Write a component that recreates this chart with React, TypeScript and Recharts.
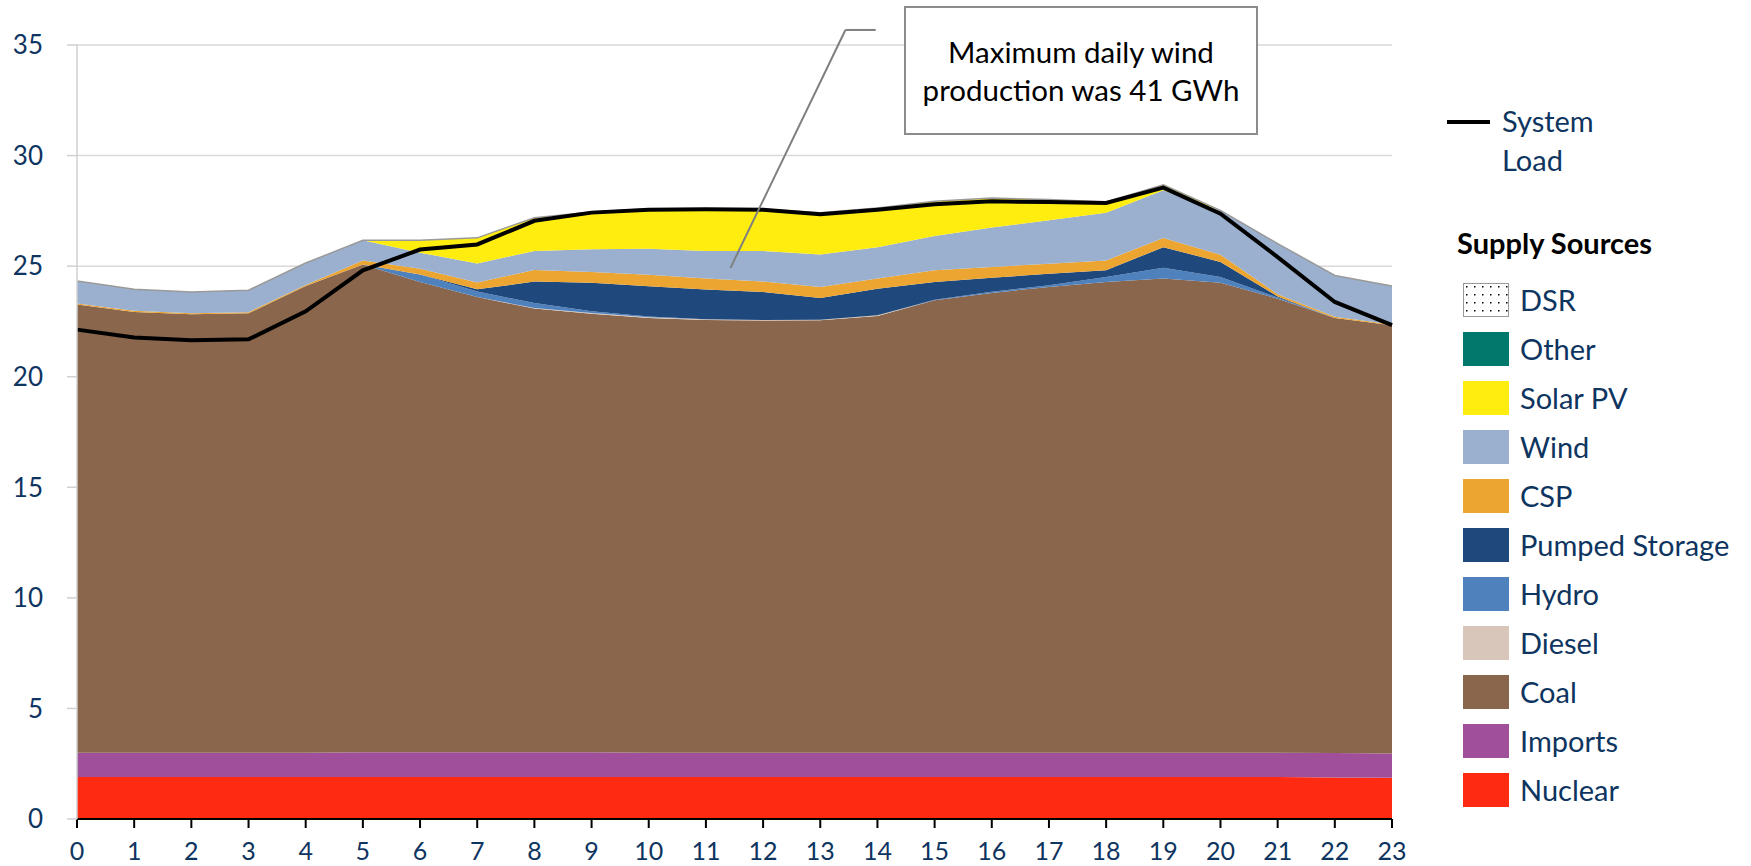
import {
  ComposedChart,
  Area,
  Line,
  XAxis,
  YAxis,
  CartesianGrid,
  ReferenceLine,
} from "recharts";

const hours = [0, 1, 2, 3, 4, 5, 6, 7, 8, 9, 10, 11, 12, 13, 14, 15, 16, 17, 18, 19, 20, 21, 22, 23];
const nuclear = [1.9, 1.9, 1.9, 1.9, 1.9, 1.9, 1.9, 1.9, 1.9, 1.9, 1.9, 1.9, 1.9, 1.9, 1.9, 1.9, 1.9, 1.9, 1.9, 1.9, 1.9, 1.9, 1.88, 1.86];
const imports = [1.1, 1.1, 1.1, 1.1, 1.1, 1.12, 1.12, 1.12, 1.12, 1.12, 1.1, 1.1, 1.1, 1.1, 1.1, 1.1, 1.1, 1.1, 1.1, 1.1, 1.1, 1.1, 1.1, 1.1];
const coal = [20.26, 19.93, 19.82, 19.87, 21.1, 22.05, 21.26, 20.58, 20.06, 19.83, 19.66, 19.57, 19.54, 19.55, 19.75, 20.46, 20.79, 21.06, 21.28, 21.44, 21.25, 20.53, 19.68, 19.37];
const diesel = [0, 0, 0, 0, 0, 0, 0, 0, 0.03, 0.03, 0.03, 0.03, 0.03, 0.03, 0.03, 0, 0, 0, 0, 0, 0, 0, 0, 0];
const hydro = [0, 0, 0, 0, 0, 0, 0.34, 0.25, 0.22, 0.08, 0.03, 0, 0, 0, 0, 0.02, 0.05, 0.08, 0.23, 0.49, 0.26, 0.05, 0, 0];
const pumped = [0, 0, 0, 0, 0, 0, 0, 0.1, 0.97, 1.29, 1.37, 1.34, 1.26, 0.98, 1.2, 0.8, 0.63, 0.52, 0.3, 0.93, 0.68, 0.05, 0, 0];
const csp = [0.05, 0.05, 0.05, 0.05, 0.05, 0.19, 0.26, 0.31, 0.53, 0.48, 0.52, 0.5, 0.48, 0.5, 0.46, 0.53, 0.49, 0.45, 0.45, 0.41, 0.33, 0.1, 0.05, 0.03];
const wind = [1.02, 0.97, 0.96, 0.99, 0.99, 0.91, 0.73, 0.86, 0.86, 1.03, 1.18, 1.24, 1.37, 1.47, 1.42, 1.55, 1.79, 1.96, 2.16, 2.16, 2.0, 2.29, 1.87, 1.74];
const solar = [0, 0, 0, 0, 0, 0, 0.56, 1.16, 1.5, 1.69, 1.81, 1.92, 1.89, 1.89, 1.77, 1.57, 1.33, 0.94, 0.48, 0.25, 0, 0, 0, 0];
const other = [0, 0, 0, 0, 0, 0, 0, 0, 0, 0, 0, 0, 0, 0, 0, 0, 0, 0, 0, 0, 0, 0, 0, 0];
const dsr = [0, 0, 0, 0, 0, 0, 0, 0, 0, 0, 0, 0, 0, 0, 0, 0, 0, 0, 0, 0, 0, 0, 0, 0];
const systemLoad = [22.13, 21.77, 21.65, 21.69, 22.96, 24.81, 25.75, 25.98, 27.05, 27.42, 27.55, 27.57, 27.55, 27.35, 27.55, 27.8, 27.93, 27.9, 27.86, 28.55, 27.37, 25.41, 23.38, 22.33];

const yTicks = [0, 5, 10, 15, 20, 25, 30, 35];

// stacking order, bottom to top
const sources = [
  { key: "nuclear", name: "Nuclear", color: "#FF2A12", values: nuclear },
  { key: "imports", name: "Imports", color: "#A0509A", values: imports },
  { key: "coal", name: "Coal", color: "#8A664C", values: coal },
  { key: "diesel", name: "Diesel", color: "#D8C6BA", values: diesel },
  { key: "hydro", name: "Hydro", color: "#4F81BD", values: hydro },
  { key: "pumped", name: "Pumped Storage", color: "#1F497D", values: pumped },
  { key: "csp", name: "CSP", color: "#EDA531", values: csp },
  { key: "wind", name: "Wind", color: "#9BB0CE", values: wind },
  { key: "solar", name: "Solar PV", color: "#FFED10", values: solar },
  { key: "other", name: "Other", color: "#00786C", values: other },
  { key: "dsr", name: "DSR", color: "url(#dots)", values: dsr },
];

const data = hours.map((h, i) => {
  const row: Record<string, number> = { hour: h, load: systemLoad[i] };
  sources.forEach((s) => (row[s.key] = s.values[i]));
  return row;
});

const TEXT = "#0E3460";
const FONT = "Lato, 'Open Sans', sans-serif";

function DotSwatch() {
  return (
    <svg width={46} height={34} style={{ display: "block" }}>
      <defs>
        <pattern id="legendDots" width="8" height="8" patternUnits="userSpaceOnUse">
          <rect width="8" height="8" fill="#fff" />
          <rect x="3" y="3" width="1.5" height="1.5" fill="#000" />
        </pattern>
      </defs>
      <rect x={0.5} y={0.5} width={45} height={33} fill="url(#legendDots)" stroke="#999" />
    </svg>
  );
}

function SupplyLegend() {
  const items = [...sources].reverse();
  return (
    <div style={{ position: "absolute", left: 1447, top: 101, fontFamily: FONT }}>
      <div style={{ display: "flex", alignItems: "flex-start" }}>
        <div style={{ width: 43, height: 4, background: "#000", marginTop: 19, marginRight: 12 }} />
        <div style={{ color: TEXT, fontSize: 29, lineHeight: "39px" }}>
          System
          <br />
          Load
        </div>
      </div>
      <div style={{ marginTop: 46, marginLeft: 10, fontWeight: 700, fontSize: 29, color: "#000", lineHeight: "36px" }}>
        Supply Sources
      </div>
      <div style={{ marginTop: 14 }}>
        {items.map((s) => (
          <div key={s.key} style={{ display: "flex", alignItems: "center", height: 49, marginLeft: 16 }}>
            {s.key === "dsr" ? (
              <DotSwatch />
            ) : (
              <div style={{ width: 46, height: 34, background: s.color }} />
            )}
            <span style={{ marginLeft: 11, color: TEXT, fontSize: 29, whiteSpace: "nowrap" }}>{s.name}</span>
          </div>
        ))}
      </div>
    </div>
  );
}

export default function App() {
  return (
    <div style={{ position: "absolute", left: 0, top: 0, width: 1751, height: 866, background: "#fff", fontFamily: FONT }}>
      <ComposedChart width={1751} height={866} data={data} margin={{ top: 45, right: 359, left: 0, bottom: 0 }}>
        <defs>
          <pattern id="dots" width="8" height="8" patternUnits="userSpaceOnUse">
            <rect width="8" height="8" fill="#fff" />
            <rect x="3" y="3" width="1.5" height="1.5" fill="#000" />
          </pattern>
        </defs>
        <CartesianGrid vertical={false} stroke="#d9d9d9" strokeWidth={1.5} />
        {sources.map((s) => (
          <Area
            key={s.key}
            type="linear"
            dataKey={s.key}
            name={s.name}
            stackId="supply"
            fill={s.color}
            fillOpacity={1}
            stroke={s.key === "dsr" ? "#9a9a9a" : "none"}
            strokeWidth={s.key === "dsr" ? 1.5 : 0}
            isAnimationActive={false}
          />
        ))}
        <Line
          type="linear"
          dataKey="load"
          name="System Load"
          stroke="#000"
          strokeWidth={4}
          dot={false}
          isAnimationActive={false}
        />
        <XAxis
          dataKey="hour"
          type="number"
          domain={[0, 23]}
          ticks={hours}
          interval={0}
          height={47}
          stroke="#000"
          strokeWidth={2}
          tickSize={9}
          tickMargin={14}
          tick={{ fill: TEXT, fontSize: 25, fontFamily: FONT }}
        />
        <YAxis
          domain={[0, 35]}
          ticks={yTicks}
          width={77}
          stroke="#d0d0d0"
          strokeWidth={1.5}
          tickSize={10}
          tickMargin={24}
          tick={{ fill: TEXT, fontSize: 26, fontFamily: FONT }}
        />
        <ReferenceLine
          segment={[
            { x: 11.43, y: 24.92 },
            { x: 13.44, y: 35.68 },
          ]}
          stroke="#7f7f7f"
          strokeWidth={2}
          ifOverflow="visible"
        />
        <ReferenceLine
          segment={[
            { x: 13.44, y: 35.68 },
            { x: 13.97, y: 35.68 },
          ]}
          stroke="#7f7f7f"
          strokeWidth={2}
          ifOverflow="visible"
        />
      </ComposedChart>
      <div
        style={{
          position: "absolute",
          left: 904,
          top: 6,
          width: 350,
          height: 125,
          border: "2px solid #8c8c8c",
          background: "#fff",
          display: "flex",
          alignItems: "center",
          justifyContent: "center",
          textAlign: "center",
          fontSize: 29.5,
          lineHeight: "38px",
          color: "#000",
        }}
      >
        Maximum daily wind
        <br />
        production was 41 GWh
      </div>
      <SupplyLegend />
    </div>
  );
}
